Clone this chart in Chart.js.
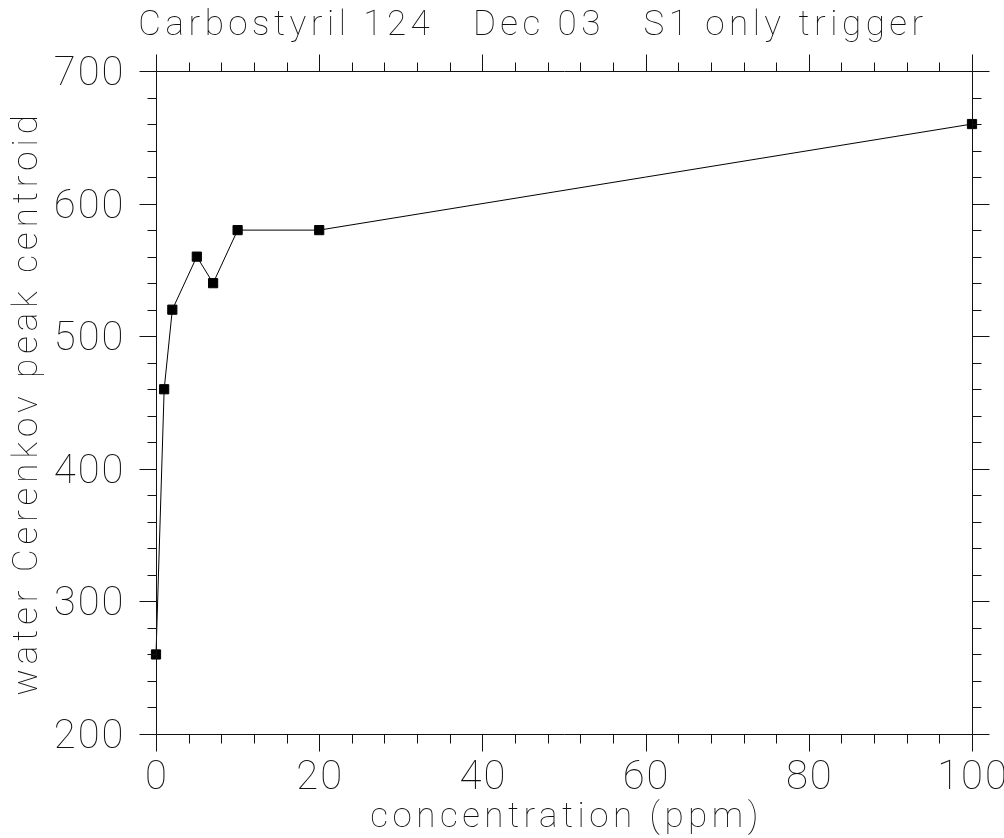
<!DOCTYPE html>
<html>
<head>
<meta charset="utf-8">
<script src="https://cdn.jsdelivr.net/npm/chart.js@4.4.1/dist/chart.umd.min.js"></script>
<style>
  html, body { margin: 0; padding: 0; background: #fff; }
  #wrap { width: 1004px; height: 838px; }
</style>
</head>
<body>
<div id="wrap"><canvas id="grafico"></canvas></div>
<script>
// Datos
const concentracion = [0, 1, 2, 5, 7, 10, 20, 100];
const centroide = [260, 460, 520, 560, 540, 580, 580, 660];

const xTicksMayores = [0, 20, 40, 60, 80, 100];
const xTicksMenores = [4, 8, 12, 16, 24, 28, 32, 36, 44, 48, 52, 56, 64, 68, 72, 76, 84, 88, 92, 96];
const yTicksMayores = [200, 300, 400, 500, 600, 700];
const yTicksMenores = [220, 240, 260, 280, 320, 340, 360, 380, 420, 440, 460, 480, 520, 540, 560, 580, 620, 640, 660, 680];

const titulo = "Carbostyril 124   Dec 03   S1 only trigger";
const tituloX = "concentration (ppm)";
const tituloY = "water Cerenkov peak centroid";

const FUENTE = '"Roboto", "DejaVu Sans", sans-serif';

// Marco, ticks y textos al estilo del original
const marcoPlugin = {
    id: "marco",
    afterDraw(chart) {
        const ctx = chart.ctx;
        const area = chart.chartArea;
        const sx = chart.scales.x;
        const sy = chart.scales.y;
        const mayor = 17, menor = 9;
        const L = Math.round(area.left) + 0.5, R = Math.round(area.right) + 0.5;
        const T = Math.round(area.top) + 0.5, B = Math.round(area.bottom) + 0.5;

        ctx.save();
        ctx.strokeStyle = "#111";
        ctx.lineWidth = 1;
        ctx.beginPath();
        ctx.rect(L, T, R - L, B - T);

        const tickX = (v, len) => {
            const px = Math.round(sx.getPixelForValue(v)) + 0.5;
            ctx.moveTo(px, B); ctx.lineTo(px, B + len);
            ctx.moveTo(px, T); ctx.lineTo(px, T - len);
        };
        const tickY = (v, len) => {
            const py = Math.round(sy.getPixelForValue(v)) + 0.5;
            ctx.moveTo(L, py); ctx.lineTo(L - len, py);
            ctx.moveTo(R, py); ctx.lineTo(R + len, py);
        };
        xTicksMayores.forEach(v => tickX(v, mayor));
        xTicksMenores.forEach(v => tickX(v, menor));
        yTicksMayores.forEach(v => tickY(v, mayor));
        yTicksMenores.forEach(v => tickY(v, menor));
        ctx.stroke();

        ctx.fillStyle = "#111";
        ctx.font = "100 40px " + FUENTE;
        ctx.letterSpacing = "2px";
        ctx.textBaseline = "alphabetic";
        ctx.textAlign = "center";
        xTicksMayores.forEach(v => {
            ctx.fillText(String(v), sx.getPixelForValue(v) + 1, B + 54);
        });
        ctx.textAlign = "right";
        yTicksMayores.forEach(v => {
            ctx.fillText(String(v), L - 31, sy.getPixelForValue(v) + 14);
        });

        ctx.font = "100 35px " + FUENTE;
        ctx.letterSpacing = "4.5px";
        ctx.textAlign = "center";
        ctx.fillText(titulo, 533, 35);
        ctx.letterSpacing = "4.5px";
        ctx.fillText(tituloX, (L + R) / 2 + 2, 827);

        ctx.letterSpacing = "5px";
        ctx.translate(37, (T + B) / 2);
        ctx.rotate(-Math.PI / 2);
        ctx.fillText(tituloY, 0, 0);
        ctx.restore();
    }
};

const ctx = document.getElementById("grafico").getContext("2d");
new Chart(ctx, {
    type: "scatter",
    data: {
        datasets: [{
            data: concentracion.map((c, i) => ({ x: c, y: centroide[i] })),
            showLine: true,
            borderColor: "#000",
            borderWidth: 1,
            backgroundColor: "#000",
            pointStyle: "rect",
            pointRadius: 6.5,
            pointBorderWidth: 1,
            clip: false
        }]
    },
    options: {
        responsive: true,
        maintainAspectRatio: false,
        animation: false,
        layout: { padding: { left: 156, top: 71, right: 32, bottom: 104 } },
        plugins: { legend: { display: false }, tooltip: { enabled: false } },
        scales: {
            x: { type: "linear", min: 0, max: 100, display: false },
            y: { type: "linear", min: 200, max: 700, display: false }
        }
    },
    plugins: [marcoPlugin]
});
</script>
</body>
</html>
